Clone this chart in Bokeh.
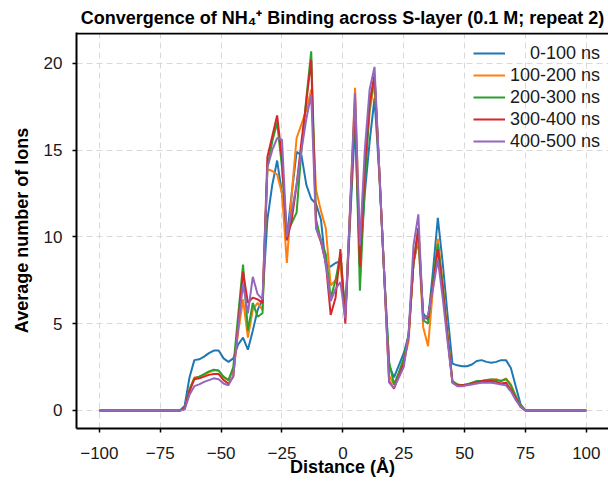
from bokeh.plotting import figure
from bokeh.models import Range1d, Legend, LegendItem, FixedTicker, Span
from bokeh.embed import file_html
from bokeh.resources import INLINE

# ---- data ----
x = [-100, -67, -65, -63, -61, -59, -57, -55, -53, -51, -49, -47, -45, -43, -41, -39, -37, -35, -33,
     -31, -29, -27, -25, -23, -21, -19, -17, -15, -13, -11, -9, -7, -5, -3, -1, 1, 3, 5, 7, 9, 11,
     13, 15, 17, 19, 21, 23, 25, 27, 29, 31, 33, 35, 37, 39, 41, 43, 45, 47, 49, 51, 53, 55, 57,
     59, 61, 63, 65, 67, 69, 71, 73, 75, 100]

s_0_100 = [0, 0.0, 0.25, 1.9, 2.9, 2.95, 3.1, 3.3, 3.45, 3.45, 3.0, 2.8, 3.0, 3.8, 4.2, 3.5, 4.6, 5.8, 6.4,
           11.0, 13.0, 14.4, 12.5, 10.0, 12.5, 14.9, 14.7, 13.0, 12.2, 11.9, 11.0, 8.3, 8.3, 8.5, 8.6, 5.5,
           11.0, 16.5, 8.5, 12.5, 15.5, 18.0, 13.5, 7.8, 2.6, 1.9, 2.6, 3.3, 4.3, 8.5, 9.8, 5.6, 5.2, 8.0,
           11.1, 8.5, 5.5, 2.7, 2.6, 2.55, 2.55, 2.65, 2.85, 2.9, 2.8, 2.75, 2.8, 2.9, 2.9, 2.45, 1.4,
           0.35, 0.0, 0]
s_100_200 = [0, 0.0, 0.1, 1.2, 1.9, 1.95, 2.05, 2.2, 2.3, 2.3, 1.9, 1.75, 2.3, 4.5, 6.4, 4.2, 5.8, 6.2, 5.8,
             13.9, 13.8, 13.6, 12.5, 8.5, 12.5, 15.7, 16.5, 17.3, 18.5, 12.7, 11.5, 10.5, 7.2, 7.5, 8.5,
             5.3, 11.8, 18.6, 9.5, 14.0, 17.2, 19.0, 13.7, 7.8, 2.0, 1.5, 2.0, 2.8, 4.0, 8.5, 10.0, 4.8,
             3.7, 7.0, 9.9, 7.4, 4.5, 1.65, 1.5, 1.45, 1.5, 1.55, 1.65, 1.7, 1.75, 1.75, 1.8, 1.7, 1.85,
             1.5, 0.85, 0.25, 0.0, 0]
s_200_300 = [0, 0.0, 0.1, 1.2, 1.85, 1.95, 2.1, 2.25, 2.35, 2.3, 1.95, 1.75, 2.5, 5.5, 8.4, 4.6, 6.2, 5.4,
             5.6, 14.0, 15.5, 16.6, 14.0, 10.2, 10.8, 11.4, 15.0, 18.0, 20.7, 11.0, 9.8, 9.0, 6.5, 7.5,
             9.0, 5.6, 11.5, 17.5, 6.9, 13.0, 17.5, 19.3, 13.7, 7.8, 2.8, 1.5, 2.2, 3.0, 4.4, 8.5, 10.5,
             5.2, 5.0, 7.5, 9.6, 7.2, 4.3, 1.7, 1.5, 1.45, 1.5, 1.6, 1.7, 1.7, 1.75, 1.8, 1.75, 1.7, 1.8,
             1.45, 0.8, 0.25, 0.0, 0]
s_300_400 = [0, 0.0, 0.1, 1.1, 1.8, 1.85, 1.95, 2.05, 2.1, 2.1, 1.75, 1.55, 1.95, 5.0, 8.0, 6.2, 6.5, 6.4,
             6.2, 14.6, 15.8, 17.0, 14.5, 9.8, 11.0, 13.0, 15.5, 17.8, 20.2, 10.5, 9.7, 8.5, 5.5, 6.5,
             9.3, 5.0, 11.5, 17.8, 8.3, 14.0, 17.8, 19.3, 13.7, 7.8, 1.7, 1.25, 2.0, 2.7, 4.3, 8.5, 10.5,
             5.3, 5.4, 7.2, 9.3, 7.0, 4.2, 1.6, 1.45, 1.45, 1.5, 1.55, 1.6, 1.7, 1.7, 1.7, 1.65, 1.55,
             1.6, 1.2, 0.7, 0.2, 0.0, 0]
s_400_500 = [0, 0.0, 0.05, 0.9, 1.4, 1.5, 1.65, 1.75, 1.85, 1.8, 1.55, 1.45, 2.0, 4.8, 7.3, 5.6, 7.7, 6.7,
             6.4, 14.0, 15.0, 15.7, 15.6, 10.0, 11.5, 13.0, 15.0, 16.8, 18.2, 10.5, 9.8, 8.5, 6.3, 7.0,
             7.4, 5.3, 11.8, 18.3, 9.5, 15.0, 18.5, 19.8, 13.8, 7.8, 1.6, 1.3, 1.9, 2.5, 4.4, 9.5, 11.3,
             5.2, 5.5, 7.0, 8.7, 6.5, 4.0, 1.6, 1.4, 1.4, 1.45, 1.5, 1.55, 1.6, 1.6, 1.6, 1.55, 1.5,
             1.45, 1.1, 0.6, 0.2, 0.0, 0]

series_labels = ["\u2007\u20070-100 ns", "100-200 ns", "200-300 ns", "300-400 ns", "400-500 ns"]
series_values = [s_0_100, s_100_200, s_200_300, s_300_400, s_400_500]
colors = ["#1f77b4", "#ff7f0e", "#2ca02c", "#d62728", "#9467bd"]
x_ticks = [-100, -75, -50, -25, 0, 25, 50, 75, 100]
y_ticks = [0, 5, 10, 15, 20]

FONT = "Liberation Sans"
X_LO, X_HI = -109.4, 109.1
Y_LO, Y_HI = -1.04, 21.78

p = figure(width=608, height=481, output_backend="svg", toolbar_location=None,
           x_range=Range1d(X_LO, X_HI), y_range=Range1d(Y_LO, Y_HI),
           min_border_left=76, min_border_right=0, min_border_bottom=53, min_border_top=32)

p.title.text = "Convergence of NH\u2084\u207a Binding across S-layer (0.1 M; repeat 2)"
p.title.text_font = FONT
p.title.text_font_size = "18px"
p.title.text_font_style = "bold"
p.title.align = "center"
p.title.text_color = "black"

# left/bottom spines come from the axes, the top spine from a span; no right spine visible
p.outline_line_color = None
p.background_fill_color = "white"
p.border_fill_color = "white"
p.add_layout(Span(location=Y_HI - 0.06, dimension="width", line_color="black", line_width=2))

for ax in (p.xaxis, p.yaxis):
    ax.axis_line_color = "black"
    ax.axis_line_width = 2
    ax.major_tick_line_color = "black"
    ax.major_tick_line_width = 1.5
    ax.major_tick_out = 4
    ax.major_tick_in = 0
    ax.minor_tick_line_color = None
    ax.major_label_text_font = FONT
    ax.major_label_text_font_size = "17px"
    ax.major_label_text_color = "#1a1a1a"
    ax.axis_label_text_font = FONT
    ax.axis_label_text_font_size = "18px"
    ax.axis_label_text_font_style = "bold"
    ax.axis_label_text_color = "black"

p.xaxis.ticker = FixedTicker(ticks=x_ticks)
p.yaxis.ticker = FixedTicker(ticks=y_ticks)
p.xaxis.axis_label = "Distance (\u00c5)"
p.yaxis.axis_label = "Average number of Ions"
p.xaxis.major_label_standoff = 14
p.yaxis.major_label_standoff = 10
p.xaxis.axis_label_standoff = -5
p.yaxis.axis_label_standoff = 9

p.xgrid.ticker = FixedTicker(ticks=x_ticks)
p.ygrid.ticker = FixedTicker(ticks=y_ticks)
for g in (p.xgrid, p.ygrid):
    g.grid_line_color = "#d9d9d9"
    g.grid_line_dash = "6 4"
    g.grid_line_width = 1

items = []
for lab, vals, col in zip(series_labels, series_values, colors):
    r = p.line(x, vals, line_color=col, line_width=2)
    items.append(LegendItem(label=lab, renderers=[r]))

legend = Legend(items=items, location=(392, 271))
legend.label_text_font = FONT
legend.label_text_font_size = "18px"
legend.label_text_color = "#1a1a1a"
legend.glyph_width = 32
legend.glyph_height = 22
legend.label_height = 22
legend.label_standoff = 5
legend.spacing = 0
legend.padding = 5
legend.margin = 0
legend.border_line_alpha = 0
legend.background_fill_alpha = 0
p.add_layout(legend)

open("out.html", "w").write(file_html(p, INLINE))
